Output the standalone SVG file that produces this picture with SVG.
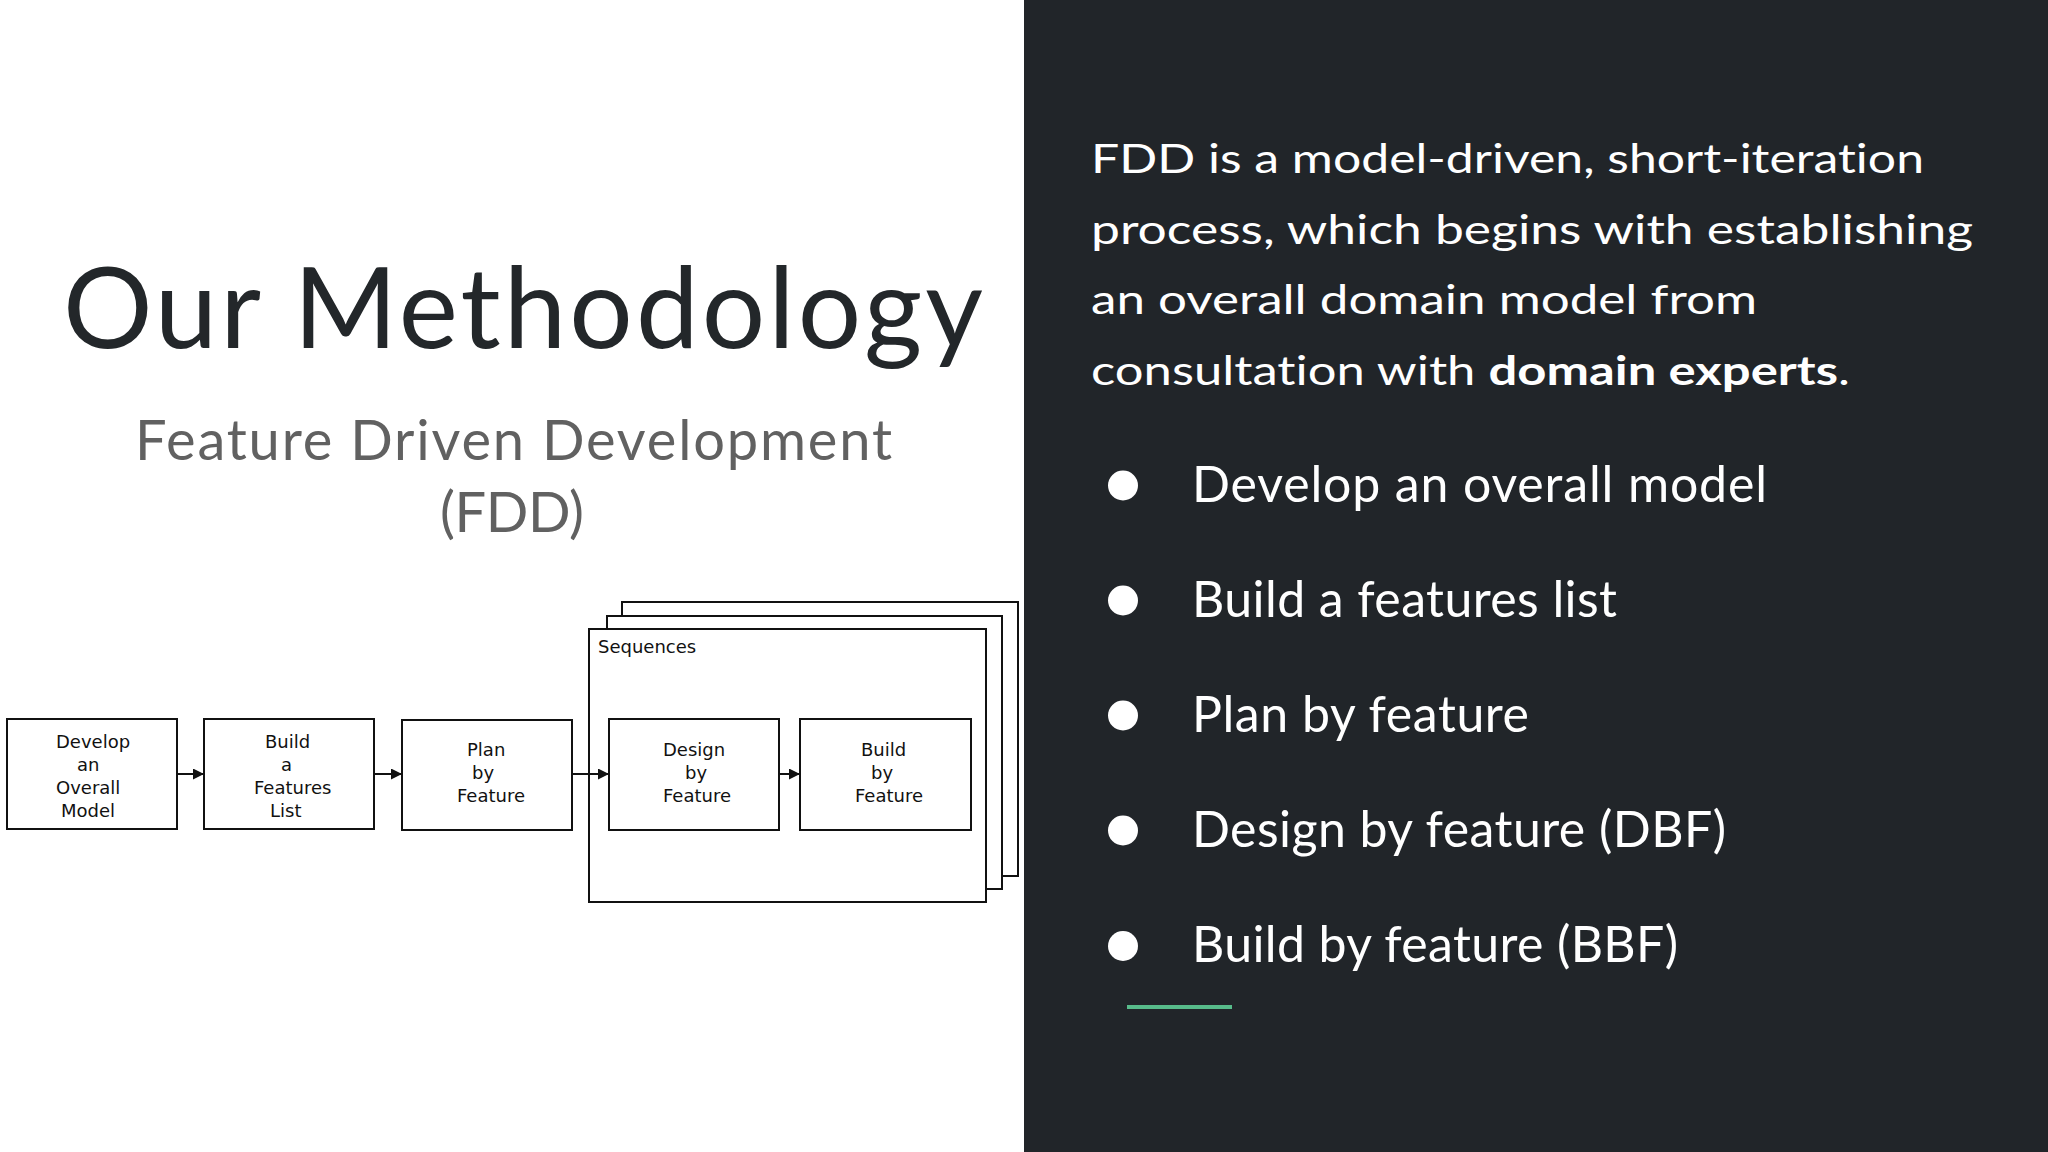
<svg xmlns="http://www.w3.org/2000/svg" width="2048" height="1152" viewBox="0 0 2048 1152">
  <style>
    text { font-variant-ligatures: none; }
    .box { fill: #ffffff; stroke: #111111; stroke-width: 2; }
    .frame { fill: #ffffff; stroke: #111111; stroke-width: 2; }
    .lbl { font-family: "DejaVu Sans", "Liberation Sans", sans-serif; font-size: 18px; fill: #111111; }
    .conn { stroke: #111111; stroke-width: 2; fill: none; marker-end: url(#arr); }
    .title { font-family: Lato, "Open Sans", sans-serif; font-size: 112px; fill: #23272a; }
    .sub { font-family: Lato, "Open Sans", sans-serif; font-size: 56px; fill: #616161; }
    .para { font-family: Lato, "Open Sans", sans-serif; font-size: 41px; fill: #ffffff; }
    .bul { font-family: Lato, "Open Sans", sans-serif; font-size: 50px; fill: #ffffff; }
    .dot { fill: #ffffff; }
  </style>
  <defs>
    <marker id="arr" markerWidth="11" markerHeight="11" refX="11" refY="5.5" orient="auto" markerUnits="userSpaceOnUse">
      <path d="M0,0 L11,5.5 L0,11 Z" fill="#111111"/>
    </marker>
  </defs>

  <rect x="0" y="0" width="2048" height="1152" fill="#ffffff"/>
  <rect id="dark-panel" x="1024" y="0" width="1024" height="1152" fill="#212529"/>

  <g id="title">
    <text class="title" x="63" y="348" textLength="920" lengthAdjust="spacing">Our Methodology</text>
  </g>
  <g id="subtitle">
    <text class="sub" x="135" y="460" textLength="757" lengthAdjust="spacing">Feature Driven Development</text>
    <text class="sub" x="440" y="532" textLength="144" lengthAdjust="spacing">(FDD)</text>
  </g>

  <g id="sequences">
    <rect class="frame" x="622" y="602" width="396" height="274"/>
    <rect class="frame" x="607" y="616" width="395" height="273"/>
    <rect class="frame" x="589" y="629" width="397" height="273"/>
    <text class="lbl" x="598" y="653">Sequences</text>
  </g>

  <g id="develop-overall-model">
    <rect class="box" x="7" y="719" width="170" height="110"/>
    <text class="lbl" x="56" y="748">Develop</text>
    <text class="lbl" x="77" y="771">an</text>
    <text class="lbl" x="56" y="794">Overall</text>
    <text class="lbl" x="61" y="817">Model</text>
  </g>

  <g id="build-features-list">
    <rect class="box" x="204" y="719" width="170" height="110"/>
    <text class="lbl" x="265" y="748">Build</text>
    <text class="lbl" x="281" y="771">a</text>
    <text class="lbl" x="254" y="794">Features</text>
    <text class="lbl" x="270" y="817">List</text>
  </g>

  <g id="plan-by-feature">
    <rect class="box" x="402" y="720" width="170" height="110"/>
    <text class="lbl" x="467" y="756">Plan</text>
    <text class="lbl" x="472" y="779">by</text>
    <text class="lbl" x="457" y="802">Feature</text>
  </g>

  <g id="design-by-feature">
    <rect class="box" x="609" y="719" width="170" height="111"/>
    <text class="lbl" x="663" y="756">Design</text>
    <text class="lbl" x="685" y="779">by</text>
    <text class="lbl" x="663" y="802">Feature</text>
  </g>

  <g id="build-by-feature">
    <rect class="box" x="800" y="719" width="171" height="111"/>
    <text class="lbl" x="861" y="756">Build</text>
    <text class="lbl" x="871" y="779">by</text>
    <text class="lbl" x="855" y="802">Feature</text>
  </g>

  <g id="connectors">
    <path class="conn" d="M177,774 H204"/>
    <path class="conn" d="M374,774 H402"/>
    <path class="conn" d="M572,774 H609"/>
    <path class="conn" d="M779,774 H800"/>
  </g>

  <g id="description">
    <text class="para" x="1091" y="173" textLength="833" lengthAdjust="spacingAndGlyphs">FDD is a model-driven, short-iteration</text>
    <text class="para" x="1091" y="244" textLength="882" lengthAdjust="spacingAndGlyphs">process, which begins with establishing</text>
    <text class="para" x="1091" y="314" textLength="666" lengthAdjust="spacingAndGlyphs">an overall domain model from</text>
    <text class="para" x="1091" y="385" textLength="759" lengthAdjust="spacingAndGlyphs">consultation with <tspan font-weight="bold">domain experts</tspan>.</text>
  </g>

  <g id="bullets">
    <circle class="dot" cx="1123" cy="485.5" r="15"/>
    <text class="bul" x="1192" y="502" textLength="575" lengthAdjust="spacing">Develop an overall model</text>
    <circle class="dot" cx="1123" cy="600.5" r="15"/>
    <text class="bul" x="1192" y="617" textLength="425" lengthAdjust="spacing">Build a features list</text>
    <circle class="dot" cx="1123" cy="715.5" r="15"/>
    <text class="bul" x="1192" y="732" textLength="337" lengthAdjust="spacing">Plan by feature</text>
    <circle class="dot" cx="1123" cy="830.5" r="15"/>
    <text class="bul" x="1192" y="847" textLength="534" lengthAdjust="spacing">Design by feature (DBF)</text>
    <circle class="dot" cx="1123" cy="946" r="15"/>
    <text class="bul" x="1192" y="962" textLength="486" lengthAdjust="spacing">Build by feature (BBF)</text>
  </g>

  <rect id="accent" x="1127" y="1005" width="105" height="4" fill="#57bb8a"/>
</svg>
